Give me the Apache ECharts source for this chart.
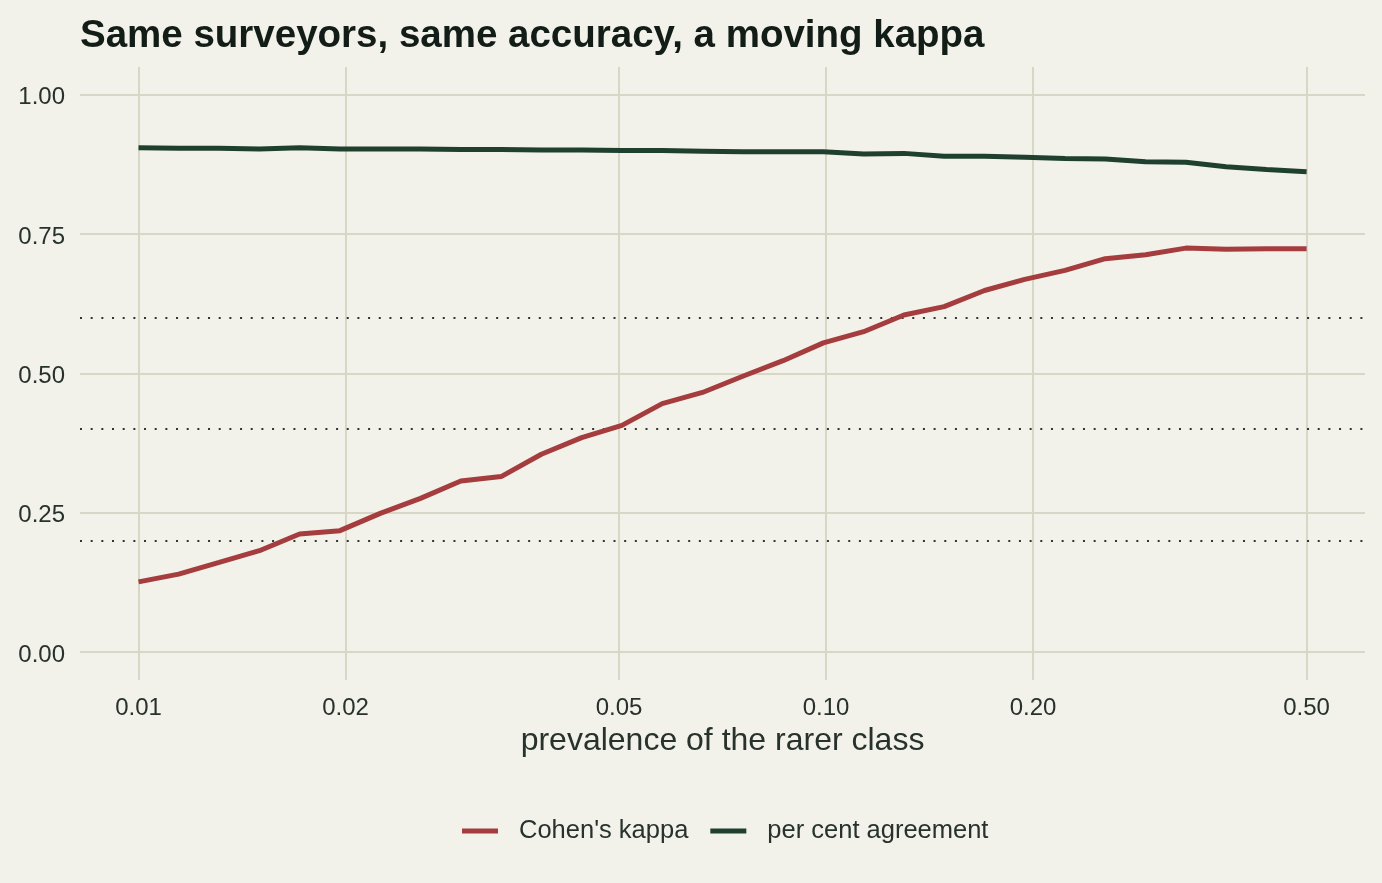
<!DOCTYPE html>
<html>
<head>
<meta charset="utf-8">
<script src="https://cdn.jsdelivr.net/npm/echarts@6/dist/echarts.min.js"></script>
<style>
html,body{margin:0;padding:0;background:#f2f1ea;}
#chart{width:1382px;height:883px;}
</style>
</head>
<body>
<div id="chart"></div>
<script>
var prevalence = [0.01, 0.01144, 0.01310, 0.01499, 0.01715, 0.01963, 0.02247, 0.02571, 0.02943, 0.03368,
  0.03854, 0.04411, 0.05048, 0.05777, 0.06611, 0.07566, 0.08659, 0.09910, 0.1134, 0.1298,
  0.1485, 0.1700, 0.1945, 0.2226, 0.2548, 0.2916, 0.3337, 0.3819, 0.4371, 0.5];
var kappa = [0.126, 0.140, 0.161, 0.182, 0.212, 0.218, 0.249, 0.276, 0.307, 0.315,
  0.355, 0.385, 0.407, 0.446, 0.466, 0.495, 0.523, 0.555, 0.575, 0.605,
  0.620, 0.649, 0.669, 0.685, 0.706, 0.713, 0.725, 0.723, 0.724, 0.724];
var agreement = [0.905, 0.904, 0.904, 0.903, 0.905, 0.903, 0.903, 0.903, 0.902, 0.902,
  0.901, 0.901, 0.900, 0.900, 0.899, 0.898, 0.898, 0.898, 0.894, 0.895,
  0.890, 0.890, 0.888, 0.886, 0.885, 0.880, 0.879, 0.871, 0.866, 0.862];
var xTicks = [0.01, 0.02, 0.05, 0.10, 0.20, 0.50];
var yTicks = [0, 0.25, 0.5, 0.75, 1.0];
var refLevels = [0.2, 0.4, 0.6];

function zip(xs, ys) { return xs.map(function (x, i) { return [x, ys[i]]; }); }

var chart = echarts.init(document.getElementById('chart'), null, {renderer: 'canvas'});
var textColor = '#27322c';
var gridColor = '#d8d7c5';
chart.setOption({
  backgroundColor: '#f2f1ea',
  animation: false,
  textStyle: {fontFamily: 'Liberation Sans'},
  title: {
    text: 'Same surveyors, same accuracy, a moving kappa',
    left: 75, top: 12,
    textStyle: {fontFamily: 'Liberation Sans', fontWeight: 'bold', fontSize: 38.5, color: '#131d17'}
  },
  grid: {left: 80, right: 17, top: 67, bottom: 203, containLabel: false},
  legend: {
    top: 818, left: 462, padding: 0,
    icon: 'rect', itemWidth: 36, itemHeight: 5, itemGap: 22,
    textStyle: {fontFamily: 'Liberation Sans', fontSize: 25.5, color: textColor, padding: [0, 0, 0, 16]},
    data: ["Cohen's kappa", 'per cent agreement']
  },
  xAxis: {
    type: 'log', logBase: 10, min: 0.00822, max: 0.608,
    name: 'prevalence of the rarer class', nameLocation: 'middle', nameGap: 45,
    nameTextStyle: {fontFamily: 'Liberation Sans', fontSize: 32, color: textColor},
    axisLine: {show: false},
    axisTick: {show: false, customValues: xTicks},
    axisLabel: {
      customValues: xTicks, margin: 16,
      fontFamily: 'Liberation Sans', fontSize: 24, color: textColor,
      formatter: function (v) { return Number(v).toFixed(2); }
    },
    splitLine: {show: true, lineStyle: {color: gridColor, width: 2}},
    minorTick: {show: false}, minorSplitLine: {show: false}
  },
  yAxis: {
    type: 'value', min: -0.05, max: 1.05,
    axisLine: {show: false},
    axisTick: {show: false, customValues: yTicks},
    axisLabel: {
      customValues: yTicks, margin: 15,
      fontFamily: 'Liberation Sans', fontSize: 24, color: textColor,
      formatter: function (v) { return '{v|' + Number(v).toFixed(2) + '}'; },
      rich: {v: {fontFamily: 'Liberation Sans', fontSize: 24, color: textColor, padding: [6, 0, 0, 0]}}
    },
    splitLine: {show: true, lineStyle: {color: gridColor, width: 2}}
  },
  series: [
    {
      name: "Cohen's kappa", type: 'line', data: zip(prevalence, kappa),
      showSymbol: false, symbol: 'none', z: 3,
      lineStyle: {color: '#a53d3f', width: 5}, itemStyle: {color: '#a53d3f'},
      markLine: {
        silent: true, symbol: 'none', z: 1, label: {show: false},
        lineStyle: {color: '#333333', type: [2, 8.67], width: 2},
        data: refLevels.map(function (v) { return {yAxis: v}; })
      }
    },
    {
      name: 'per cent agreement', type: 'line', data: zip(prevalence, agreement),
      showSymbol: false, symbol: 'none', z: 3,
      lineStyle: {color: '#1f402e', width: 5}, itemStyle: {color: '#1f402e'}
    }
  ]
});
</script>
</body>
</html>
